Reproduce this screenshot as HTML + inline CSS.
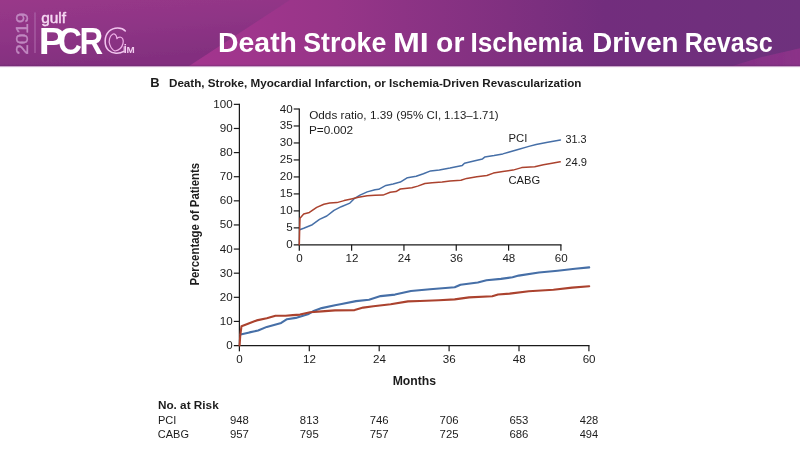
<!DOCTYPE html>
<html lang="en">
<head>
<meta charset="utf-8">
<title>Death Stroke MI or Ischemia Driven Revasc</title>
<style>
html,body{margin:0;padding:0;background:#fff;}
body{width:800px;height:450px;overflow:hidden;font-family:"Liberation Sans", sans-serif;}
svg{display:block;}
text{font-family:"Liberation Sans", sans-serif;white-space:pre;}
</style>
</head>
<body>
<svg width="800" height="450" viewBox="0 0 800 450">
<defs>
<linearGradient id="hg" x1="189" y1="0" x2="800" y2="0" gradientUnits="userSpaceOnUse">
<stop offset="0" stop-color="#a3358e"/>
<stop offset="0.1" stop-color="#9f358c"/>
<stop offset="0.24" stop-color="#973588"/>
<stop offset="0.35" stop-color="#8d3385"/>
<stop offset="0.52" stop-color="#803080"/>
<stop offset="0.68" stop-color="#722d7d"/>
<stop offset="1" stop-color="#6e317d"/>
</linearGradient>
<linearGradient id="lg" x1="0" y1="0" x2="6" y2="70" gradientUnits="userSpaceOnUse">
<stop offset="0" stop-color="#993889"/>
<stop offset="0.5" stop-color="#8f3586"/>
<stop offset="1" stop-color="#832f7f"/>
</linearGradient>
<linearGradient id="br" x1="700" y1="66" x2="800" y2="60" gradientUnits="userSpaceOnUse">
<stop offset="0" stop-color="#893088" stop-opacity="0.25"/>
<stop offset="0.5" stop-color="#8c3189" stop-opacity="0.8"/>
<stop offset="1" stop-color="#8b3288" stop-opacity="1"/>
</linearGradient>
<filter id="soft" x="-5%" y="-20%" width="110%" height="140%"><feGaussianBlur stdDeviation="0.7"/></filter>
</defs>
<rect x="0" y="0" width="800" height="450" fill="#ffffff"/>
<!-- header -->
<rect x="0" y="0" width="800" height="66" fill="url(#hg)"/>
<g filter="url(#soft)">
<polygon points="-5,-5 297.5,-5 181.5,71 -5,71" fill="url(#lg)"/>
<polygon points="716,71 760,57.5 800,48.2 805,48 805,71" fill="url(#br)"/>
</g>
<rect x="0" y="64.9" width="800" height="1.2" fill="#5e2a66" opacity="0.3"/>
<rect x="0" y="66" width="800" height="6" fill="#ffffff"/>
<rect x="0" y="66" width="800" height="1" fill="#b887b8" opacity="0.75"/>
<rect x="0" y="67" width="800" height="1" fill="#f1e4f1" opacity="0.4"/>

<g>
<text transform="translate(28.4,53.9) rotate(-90)" x="-0.96" y="0" font-size="16.6" fill="#c188c1" textLength="42.25" lengthAdjust="spacingAndGlyphs" stroke="#c188c1" stroke-width="0.35">2019</text>
<rect x="34.4" y="12.4" width="1.2" height="40.6" fill="#ab64a8"/>
<text x="41.15" y="22.9" font-size="14.4" fill="#f6d9f3" textLength="24.82" lengthAdjust="spacingAndGlyphs" stroke="#f6d9f3" stroke-width="0.4" stroke-linejoin="round">gulf</text>
<text y="53.7" font-size="36" font-weight="bold" fill="#ffffff"><tspan x="38.75" textLength="26.4" lengthAdjust="spacingAndGlyphs">P</tspan><tspan x="58.04" textLength="23.86" lengthAdjust="spacingAndGlyphs">C</tspan><tspan x="79.61" textLength="23.66" lengthAdjust="spacingAndGlyphs">R</tspan></text>
<path d="M125.3,31 C122,27.3 114,26.6 109,31.3 C104,36.3 103.9,45.6 108.5,50.2 C112.5,54 119.5,53.9 123.8,51.4" fill="none" stroke="#f1c4ee" stroke-width="1.55" stroke-linecap="round"/>
<path d="M124.1,52.6 V46.4" fill="none" stroke="#f1c4ee" stroke-width="0.9"/>
<path d="M116.9,38.6 C116.7,35.2 114.6,33 112.6,34.2 C109.6,36 108.4,40.5 109.8,44.6 C110.8,47.7 112.6,50 115,51 C118.6,50.4 122,47.5 123,43.5 C123.8,40 122.6,37.1 120.1,37 C118.6,37 117.4,37.6 116.9,38.6" fill="none" stroke="#eeaee6" stroke-width="1.25" stroke-linecap="round" stroke-linejoin="round"/>
<text y="53.3" font-weight="bold" fill="#f3cdf0"><tspan x="123.74" font-size="12.6" textLength="3.04" lengthAdjust="spacingAndGlyphs">i</tspan><tspan x="126.54" font-size="8.2" textLength="8.22" lengthAdjust="spacingAndGlyphs">M</tspan></text>
</g>
<text y="51.9" font-size="28.1" font-weight="bold" fill="#ffffff"><tspan x="218.1" textLength="78.86" lengthAdjust="spacingAndGlyphs">Death</tspan> <tspan x="303.23" textLength="83.08" lengthAdjust="spacingAndGlyphs">Stroke</tspan> <tspan x="393.04" textLength="35.81" lengthAdjust="spacingAndGlyphs">MI</tspan> <tspan x="436.09" textLength="28.34" lengthAdjust="spacingAndGlyphs">or</tspan> <tspan x="470.44" textLength="112.39" lengthAdjust="spacingAndGlyphs">Ischemia</tspan> <tspan x="592.35" textLength="86.17" lengthAdjust="spacingAndGlyphs">Driven</tspan> <tspan x="684.72" textLength="87.91" lengthAdjust="spacingAndGlyphs">Revasc</tspan></text>
<text x="150.33" y="87.2" font-size="13.6" font-weight="bold" fill="#1c1c1c" textLength="9.35" lengthAdjust="spacingAndGlyphs">B</text>
<text x="168.97" y="87.2" font-size="11.7" font-weight="bold" fill="#1c1c1c" textLength="412.45" lengthAdjust="spacingAndGlyphs">Death, Stroke, Myocardial Infarction, or Ischemia-Driven Revascularization</text>
<text transform="translate(198.7,284.8) rotate(-90)" x="-0.76" y="0" font-size="12" font-weight="bold" fill="#1c1c1c" textLength="122.63" lengthAdjust="spacingAndGlyphs">Percentage of Patients</text>
<g stroke="#1a1a1a" stroke-width="1.25" fill="none" stroke-linecap="butt">
<path d="M239.4,103.75 V351.35"/>
<path d="M233.8,345.55 H589.5"/>
<path stroke-width="1.2" d="M233.8,321.43 H239.4"/>
<path stroke-width="1.2" d="M233.8,297.31 H239.4"/>
<path stroke-width="1.2" d="M233.8,273.19 H239.4"/>
<path stroke-width="1.2" d="M233.8,249.07 H239.4"/>
<path stroke-width="1.2" d="M233.8,224.95 H239.4"/>
<path stroke-width="1.2" d="M233.8,200.83 H239.4"/>
<path stroke-width="1.2" d="M233.8,176.71 H239.4"/>
<path stroke-width="1.2" d="M233.8,152.59 H239.4"/>
<path stroke-width="1.2" d="M233.8,128.47 H239.4"/>
<path stroke-width="1.2" d="M233.8,104.35 H239.4"/>
<path stroke-width="1.2" d="M309.30,345.55 V351.35"/>
<path stroke-width="1.2" d="M379.20,345.55 V351.35"/>
<path stroke-width="1.2" d="M449.10,345.55 V351.35"/>
<path stroke-width="1.2" d="M519.00,345.55 V351.35"/>
<path stroke-width="1.2" d="M588.90,345.55 V351.35"/>
</g>
<g font-size="11.6" fill="#1c1c1c" text-anchor="end">
<text x="232.7" y="349.05">0</text>
<text x="232.7" y="324.93">10</text>
<text x="232.7" y="300.81">20</text>
<text x="232.7" y="276.69">30</text>
<text x="232.7" y="252.57">40</text>
<text x="232.7" y="228.45">50</text>
<text x="232.7" y="204.33">60</text>
<text x="232.7" y="180.21">70</text>
<text x="232.7" y="156.09">80</text>
<text x="232.7" y="131.97">90</text>
<text x="232.7" y="107.85">100</text>
</g>
<g font-size="11.6" fill="#1c1c1c" text-anchor="middle">
<text x="239.60" y="362.8">0</text>
<text x="309.50" y="362.8">12</text>
<text x="379.40" y="362.8">24</text>
<text x="449.30" y="362.8">36</text>
<text x="519.20" y="362.8">48</text>
<text x="589.10" y="362.8">60</text>
</g>
<g stroke="#1a1a1a" stroke-width="1.25" fill="none">
<path d="M299.3,108.4 V250.65"/>
<path d="M293.7,244.85 H561.5"/>
<path stroke-width="1.2" d="M293.7,227.87 H299.3"/>
<path stroke-width="1.2" d="M293.7,210.89 H299.3"/>
<path stroke-width="1.2" d="M293.7,193.91 H299.3"/>
<path stroke-width="1.2" d="M293.7,176.93 H299.3"/>
<path stroke-width="1.2" d="M293.7,159.94 H299.3"/>
<path stroke-width="1.2" d="M293.7,142.96 H299.3"/>
<path stroke-width="1.2" d="M293.7,125.98 H299.3"/>
<path stroke-width="1.2" d="M293.7,109.00 H299.3"/>
<path stroke-width="1.2" d="M351.62,244.85 V250.65"/>
<path stroke-width="1.2" d="M403.94,244.85 V250.65"/>
<path stroke-width="1.2" d="M456.26,244.85 V250.65"/>
<path stroke-width="1.2" d="M508.58,244.85 V250.65"/>
<path stroke-width="1.2" d="M560.90,244.85 V250.65"/>
</g>
<g font-size="11.6" fill="#1c1c1c" text-anchor="end">
<text x="292.7" y="248.35">0</text>
<text x="292.7" y="231.37">5</text>
<text x="292.7" y="214.39">10</text>
<text x="292.7" y="197.41">15</text>
<text x="292.7" y="180.43">20</text>
<text x="292.7" y="163.44">25</text>
<text x="292.7" y="146.46">30</text>
<text x="292.7" y="129.48">35</text>
<text x="292.7" y="112.50">40</text>
</g>
<g font-size="11.6" fill="#1c1c1c" text-anchor="middle">
<text x="299.60" y="262.4">0</text>
<text x="351.92" y="262.4">12</text>
<text x="404.24" y="262.4">24</text>
<text x="456.56" y="262.4">36</text>
<text x="508.88" y="262.4">48</text>
<text x="561.20" y="262.4">60</text>
</g>
<polyline points="240.5,334.6 249.5,332.4 258.1,330.5 266.8,326.9 281.2,322.9 287.0,319.2 295.7,317.9 308.7,313.9 313.0,311.3 321.7,308.1 335.0,305.2 341.6,304.0 356.0,301.1 369.0,299.7 380.6,296.1 395.0,294.6 410.9,291.0 430.0,289.3 454.7,287.3 460.5,284.7 477.8,282.5 486.5,280.3 500.9,278.9 512.5,277.2 518.7,275.6 538.9,272.5 557.7,270.7 575.0,268.8 589.2,267.4" fill="none" stroke="#466fa7" stroke-width="2.1" stroke-linejoin="round" stroke-linecap="round"/>
<polyline points="239.6,345.4 240.3,335.0 241.5,326.2 248.0,323.7 256.7,320.4 266.8,318.2 275.5,315.8 285.6,315.8 292.8,315.1 300.0,314.6 310.1,312.2 321.7,311.4 335.0,310.4 354.6,310.1 363.2,307.6 373.4,306.2 390.7,304.3 408.0,301.4 420.0,301.0 438.8,300.3 454.7,299.4 469.1,297.4 492.3,296.2 498.0,294.5 509.6,293.6 528.8,291.2 553.4,289.8 572.1,287.6 589.2,286.2" fill="none" stroke="#ab422e" stroke-width="2.1" stroke-linejoin="round" stroke-linecap="round"/>
<polyline points="299.6,229.8 303.7,228.3 312.3,224.7 319.5,219.4 326.8,216.0 334.0,210.3 341.2,206.7 349.9,203.1 354.2,198.7 360.0,195.1 367.2,191.9 375.0,189.8 378.7,189.3 385.9,185.4 393.1,183.9 400.3,182.1 407.5,177.7 416.2,176.3 423.4,173.8 430.6,170.9 439.3,169.9 450.0,168.1 453.7,167.2 462.3,165.4 464.5,163.3 473.9,161.1 482.5,158.9 484.7,157.1 494.1,155.6 502.8,153.9 508.5,152.2 517.2,149.7 528.9,146.4 536.1,144.5 547.7,142.3 560.4,139.9" fill="none" stroke="#466fa7" stroke-width="1.5" stroke-linejoin="round" stroke-linecap="round"/>
<polyline points="299.3,244.8 299.6,232.0 300.0,218.2 303.7,213.9 309.4,212.4 316.7,207.4 323.9,204.2 329.7,203.1 336.9,202.6 344.1,200.6 351.3,199.0 358.5,197.3 367.2,195.8 375.0,195.2 383.0,195.1 390.2,192.3 396.0,191.6 400.3,189.0 411.9,187.8 417.7,186.1 424.9,183.5 432.1,182.8 442.2,182.1 450.0,180.9 460.9,180.3 466.7,178.4 476.8,176.7 486.9,175.5 493.4,173.1 502.8,171.5 513.0,170.1 521.7,167.6 534.7,166.7 543.4,164.7 552.0,163.3 560.2,161.8" fill="none" stroke="#ab422e" stroke-width="1.5" stroke-linejoin="round" stroke-linecap="round"/>
<text y="119.4" font-size="11.3" fill="#1c1c1c"><tspan x="309.19" textLength="83.56" lengthAdjust="spacingAndGlyphs">Odds ratio, 1.39</tspan> <tspan x="396.28" textLength="27.14" lengthAdjust="spacingAndGlyphs">(95%</tspan> <tspan x="426.62" textLength="14.61" lengthAdjust="spacingAndGlyphs">CI,</tspan> <tspan x="444.13" textLength="54.47" lengthAdjust="spacingAndGlyphs">1.13–1.71)</tspan></text>
<text x="308.93" y="134.3" font-size="11.3" fill="#1c1c1c" textLength="44.26" lengthAdjust="spacingAndGlyphs">P=0.002</text>
<text x="508.47" y="141.6" font-size="11.3" fill="#1c1c1c" textLength="18.87" lengthAdjust="spacingAndGlyphs">PCI</text>
<text x="508.43" y="183.5" font-size="11.2" fill="#1c1c1c" textLength="31.7" lengthAdjust="spacingAndGlyphs">CABG</text>
<text x="565.39" y="142.6" font-size="11.4" fill="#1c1c1c" textLength="21.09" lengthAdjust="spacingAndGlyphs">31.3</text>
<text x="565.24" y="165.6" font-size="11.2" fill="#1c1c1c" textLength="21.69" lengthAdjust="spacingAndGlyphs">24.9</text>
<text x="392.68" y="385" font-size="12.1" font-weight="bold" fill="#1c1c1c" textLength="43.42" lengthAdjust="spacingAndGlyphs">Months</text>
<text x="157.91" y="408.8" font-size="11.4" font-weight="bold" fill="#1c1c1c" textLength="60.78" lengthAdjust="spacingAndGlyphs">No. at Risk</text>
<text x="157.89" y="423.6" font-size="11.4" fill="#1c1c1c" textLength="18.43" lengthAdjust="spacingAndGlyphs">PCI</text>
<text x="157.84" y="438.1" font-size="11.4" fill="#1c1c1c" textLength="31.08" lengthAdjust="spacingAndGlyphs">CABG</text>
<text x="229.92" y="423.6" font-size="11.4" fill="#1c1c1c" textLength="18.92" lengthAdjust="spacingAndGlyphs">948</text>
<text x="229.92" y="438.1" font-size="11.4" fill="#1c1c1c" textLength="19.01" lengthAdjust="spacingAndGlyphs">957</text>
<text x="299.86" y="423.6" font-size="11.4" fill="#1c1c1c" textLength="18.89" lengthAdjust="spacingAndGlyphs">813</text>
<text x="299.77" y="438.1" font-size="11.4" fill="#1c1c1c" textLength="18.96" lengthAdjust="spacingAndGlyphs">795</text>
<text x="369.67" y="423.6" font-size="11.4" fill="#1c1c1c" textLength="18.98" lengthAdjust="spacingAndGlyphs">746</text>
<text x="369.66" y="438.1" font-size="11.4" fill="#1c1c1c" textLength="19.06" lengthAdjust="spacingAndGlyphs">757</text>
<text x="439.57" y="423.6" font-size="11.4" fill="#1c1c1c" textLength="18.98" lengthAdjust="spacingAndGlyphs">706</text>
<text x="439.57" y="438.1" font-size="11.4" fill="#1c1c1c" textLength="18.96" lengthAdjust="spacingAndGlyphs">725</text>
<text x="509.47" y="423.6" font-size="11.4" fill="#1c1c1c" textLength="18.98" lengthAdjust="spacingAndGlyphs">653</text>
<text x="509.47" y="438.1" font-size="11.4" fill="#1c1c1c" textLength="18.98" lengthAdjust="spacingAndGlyphs">686</text>
<text x="579.69" y="423.6" font-size="11.4" fill="#1c1c1c" textLength="18.64" lengthAdjust="spacingAndGlyphs">428</text>
<text x="579.7" y="438.1" font-size="11.4" fill="#1c1c1c" textLength="18.48" lengthAdjust="spacingAndGlyphs">494</text>
</svg>
</body>
</html>
